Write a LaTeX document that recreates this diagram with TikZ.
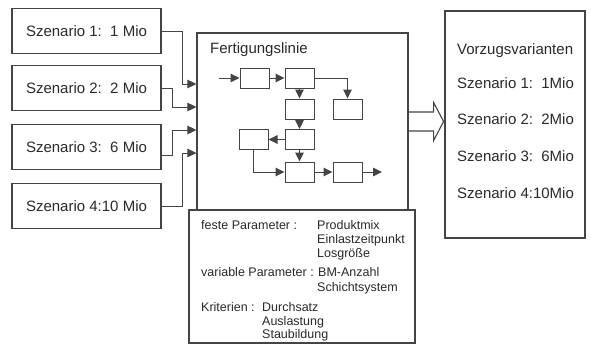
\documentclass[tikz,border=0pt]{standalone}
\usepackage{fontspec}
\setmainfont{Liberation Sans}
\usetikzlibrary{arrows.meta,calc}
\definecolor{ln}{HTML}{444444}
\definecolor{tx}{HTML}{2A2A2A}
\begin{document}
\begin{tikzpicture}[x=1pt,y=-1pt,
  scen/.style={draw=ln,line width=1.2pt,minimum width=149pt,minimum height=45pt,inner sep=0pt,text=tx,font=\fontsize{15}{18}\selectfont},
  frame/.style={draw=ln,line width=1.2pt,inner sep=0pt},
  sbox/.style={draw=ln,line width=1pt,minimum width=29pt,minimum height=20pt,inner sep=0pt},
  arr/.style={draw=ln,line width=1pt,-{Triangle[length=9pt,width=8.5pt]}},
  dbl/.style={draw=ln,line width=1.1pt,line join=miter},
  lbl/.style={anchor=base west,inner sep=0pt,text=tx,font=\fontsize{15}{18}\selectfont},
  par/.style={anchor=base west,inner sep=0pt,text=tx,font=\fontsize{12.5}{14}\selectfont}
]
\useasboundingbox[fill=white] (0,0) rectangle (591,351);

% scenario boxes
\node[scen] (s1) at (86.5,31) {Szenario 1:\ \ 1 Mio};
\node[scen] (s2) at (86.5,88) {Szenario 2:\ \ 2 Mio};
\node[scen] (s3) at (86.5,147) {Szenario 3:\ \ 6 Mio};
\node[scen] (s4) at (86.5,206) {Szenario 4:10 Mio};

% main frames
\node[frame,minimum width=211pt,minimum height=177pt] (main) at (302.5,121.5) {};
\node[frame,minimum width=226pt,minimum height=133pt] (pbox) at (302,276.5) {};
\node[frame,minimum width=140pt,minimum height=227pt] (vz) at (515,124.5) {};

% scenario connectors
\draw[arr] (s1.east) -- ++(21,0) |- ([yshift=37.5pt]main.west);
\draw[arr] (s2.east) -- ++(11,0) |- ([yshift=14.5pt]main.west);
\draw[arr] ([yshift=-8pt]s3.east) -- ++(11,0) |- ([yshift=-8.5pt]main.west);
\draw[arr] (s4.east) -- ++(21,0) |- ([yshift=-31.5pt]main.west);

% title
\node[lbl] (title) at (210,53.5) {Fertigungslinie};

% inner flow
\node[sbox] (A) at (254.5,78) {};
\node[sbox] (B) at (299.5,78) {};
\node[sbox] (C) at (299.5,109) {};
\node[sbox] (D) at (347.5,109) {};
\node[sbox] (E) at (299.5,139.5) {};
\node[sbox] (F) at (253.5,139.5) {};
\node[sbox] (G) at (299.5,172) {};
\node[sbox] (H) at (347.5,172) {};
\coordinate (fin) at (219,78);
\coordinate (fout) at (382,172);
\draw[arr] (fin) -- (A.west);
\draw[arr] (A.east) -- (B.west);
\draw[arr] (B.south) -- (C.north);
\draw[arr] (B.east) -| (D.north);
\draw[arr] (C.south) -- (E.north);
\draw[arr] (E.west) -- (F.east);
\draw[arr] (E.south) -- (G.north);
\draw[arr] (F.south) |- (G.west);
\draw[arr] (G.east) -- (H.west);
\draw[arr] (H.east) -- (fout);

% hollow arrow
\draw[dbl] ([yshift=9.5pt]main.east) -- ++(25,0) -- ++(0,-9.5) -- ($(main.east)+(35,0)$) -- ++(-10,19) -- ++(0,-9.5) -- ([yshift=-9.5pt]main.east);

% Vorzugsvarianten
\node[lbl] (v0) at (457,54.6) {Vorzugsvarianten};
\node[lbl] (v1) at (457,88.6) {Szenario 1:\ \ 1Mio};
\node[lbl] (v2) at (457,124.6) {Szenario 2:\ \ 2Mio};
\node[lbl] (v3) at (457,161.3) {Szenario 3:\ \ 6Mio};
\node[lbl] (v4) at (457,198) {Szenario 4:10Mio};

% parameters
\node[par] (p1) at (201,229.5) {feste Parameter :};
\node[par] (p2) at (317,229.5) {Produktmix};
\node[par] (p3) at (317,243.5) {Einlastzeitpunkt};
\node[par] (p4) at (317,257.5) {Losgröße};
\node[par] (p5) at (201,276.5) {variable Parameter :};
\node[par] (p6) at (318,276.5) {BM-Anzahl};
\node[par] (p7) at (317,291.5) {Schichtsystem};
\node[par] (p8) at (201,311.5) {Kriterien :};
\node[par] (p9) at (262,311.5) {Durchsatz};
\node[par] (p10) at (262,325) {Auslastung};
\node[par] (p11) at (262,338) {Staubildung};
\end{tikzpicture}
\end{document}
